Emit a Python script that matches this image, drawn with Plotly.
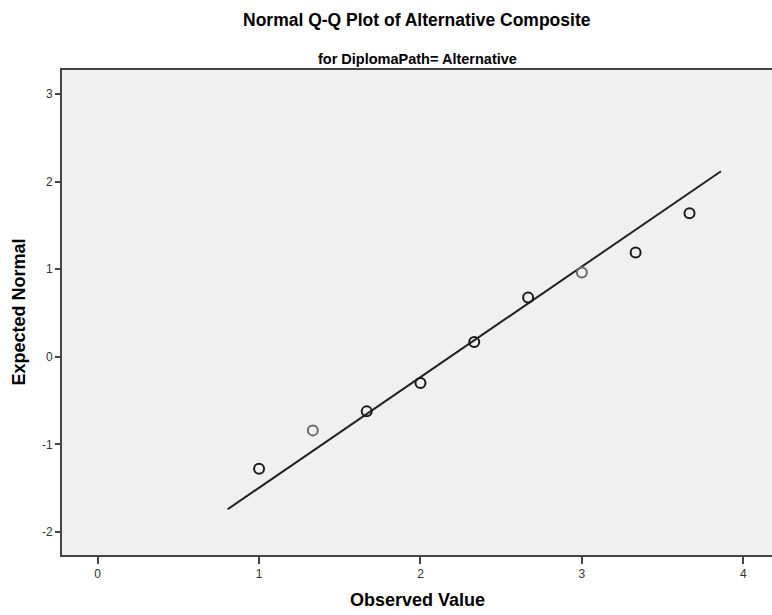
import plotly.graph_objects as go

# Data
observed = [1.0, 1.333, 1.667, 2.0, 2.333, 2.667, 3.0, 3.333, 3.667]
expected = [-1.278, -0.841, -0.624, -0.300, 0.168, 0.677, 0.962, 1.190, 1.639]
# point tone (dark = coincident cases)
tone = ["dark", "light", "dark", "dark", "dark", "dark", "light", "dark", "dark"]
line_x = [0.805, 3.862]
line_y = [-1.742, 2.118]
x_ticks = [0, 1, 2, 3, 4]
x_labels = ["0", "1", "2", "3", "4"]
y_ticks = [-2, -1, 0, 1, 2, 3]
y_labels = ["-2", "-1", "0", "1", "2", "3"]

tone_color = {"dark": "#1a1a1a", "light": "#6a6a6a"}
FONT = "Arial, Liberation Sans, sans-serif"

fig = go.Figure()
fig.add_trace(go.Scatter(x=line_x, y=line_y, mode="lines",
                         line=dict(color="#222222", width=2), hoverinfo="skip"))
fig.add_trace(go.Scatter(x=observed, y=expected, mode="markers",
                         marker=dict(symbol="circle-open", size=10,
                                     color=[tone_color[t] for t in tone],
                                     line=dict(width=2))))

axis_font = dict(family=FONT, size=12, color="#333333")
fig.update_layout(
    width=772, height=615,
    margin=dict(l=62, r=0, t=70, b=60),
    paper_bgcolor="white", plot_bgcolor="#F0F0F0",
    showlegend=False,
    font=dict(family=FONT, color="#000000"),
    xaxis=dict(range=[-0.221, 4.178], tickvals=x_ticks, ticktext=x_labels,
               showgrid=False, zeroline=False,
               showline=True, mirror=True, linecolor="#444444", linewidth=2,
               ticks="outside", ticklen=7, tickwidth=2, tickcolor="#444444",
               tickfont=axis_font),
    yaxis=dict(range=[-2.264, 3.274], tickvals=y_ticks, ticktext=y_labels,
               showgrid=False, zeroline=False,
               showline=True, mirror=False, linecolor="#444444", linewidth=2,
               ticks="outside", ticklen=5, tickwidth=2, tickcolor="#444444",
               tickfont=axis_font),
    annotations=[
        dict(text="Normal Q-Q Plot of Alternative Composite", xref="paper", yref="paper",
             x=0.5, y=1, yshift=50, xanchor="center", yanchor="middle", showarrow=False,
             font=dict(size=17.5, color="#000000", family=FONT, weight="bold")),
        dict(text="for DiplomaPath= Alternative", xref="paper", yref="paper",
             x=0.5, y=1, yshift=11, xanchor="center", yanchor="middle", showarrow=False,
             font=dict(size=14.5, color="#000000", family=FONT, weight="bold")),
        dict(text="Observed Value", xref="paper", yref="paper",
             x=0.5, y=0, yshift=-45, xanchor="center", yanchor="middle", showarrow=False,
             font=dict(size=18, color="#000000", family=FONT, weight="bold")),
        dict(text="Expected Normal", xref="paper", yref="paper",
             x=0, xshift=-44, y=0.5, xanchor="center", yanchor="middle", showarrow=False,
             textangle=-90,
             font=dict(size=18, color="#000000", family=FONT, weight="bold")),
    ],
)

fig.write_html("out.html")
